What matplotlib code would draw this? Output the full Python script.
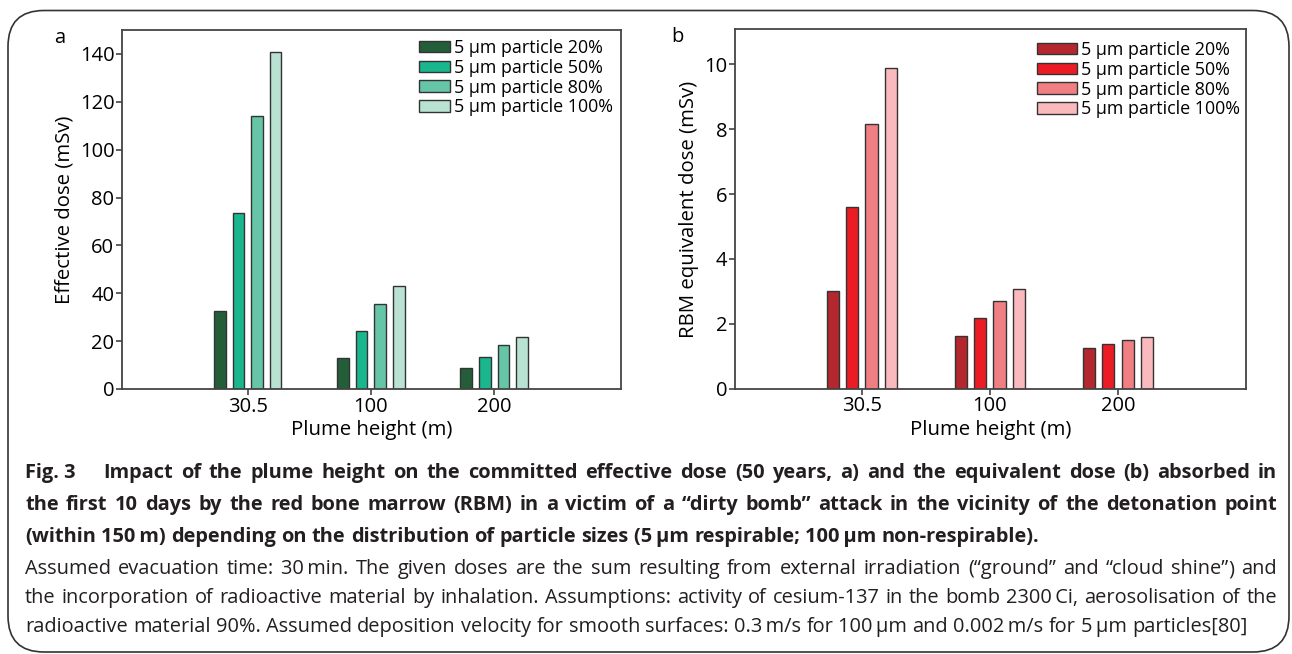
import matplotlib
matplotlib.use("Agg")
import matplotlib.pyplot as plt
import numpy as np
from matplotlib.patches import FancyBboxPatch
from matplotlib.font_manager import FontProperties

# ---------------- data ----------------
heights = ["30.5", "100", "200"]
series_labels = ["5 µm particle 20%", "5 µm particle 50%",
                 "5 µm particle 80%", "5 µm particle 100%"]
eff_20 = [32.6, 13.0, 8.6]
eff_50 = [73.4, 24.2, 13.5]
eff_80 = [114.0, 35.6, 18.4]
eff_100 = [141.0, 43.2, 21.6]
rbm_20 = [3.02, 1.62, 1.26]
rbm_50 = [5.59, 2.17, 1.38]
rbm_80 = [8.17, 2.71, 1.50]
rbm_100 = [9.89, 3.08, 1.59]
green_colors = ["#235e38", "#1ab78e", "#66c4a7", "#b9e2d3"]
red_colors = ["#b5272e", "#ec1c24", "#f07f84", "#f9b9bd"]

caption_bold = [
    "Fig.\u00a03\u2003 Impact of the plume height on the committed effective dose (50 years, a) and the equivalent dose (b) absorbed in",
    "the first 10 days by the red bone marrow (RBM) in a victim of a \u201cdirty bomb\u201d attack in the vicinity of the detonation point",
    "(within 150\u2009m) depending on the distribution of particle sizes (5\u2009µm respirable; 100\u2009µm non-respirable).",
]
caption_normal = [
    "Assumed evacuation time: 30\u2009min. The given doses are the sum resulting from external irradiation (\u201cground\u201d and \u201ccloud shine\u201d) and",
    "the incorporation of radioactive material by inhalation. Assumptions: activity of cesium-137 in the bomb 2300\u2009Ci, aerosolisation of the",
    "radioactive material 90%. Assumed deposition velocity for smooth surfaces: 0.3\u2009m/s for 100\u2009µm and 0.002\u2009m/s for 5\u2009µm particles[80]",
]

FONT = ["Open Sans", "DejaVu Sans"]
plt.rcParams["font.family"] = FONT

W, H = 1292, 654
fig = plt.figure(figsize=(W / 100, H / 100), dpi=100)

def px_axes(l, t, r, b):
    return fig.add_axes([l / W, 1 - b / H, (r - l) / W, (b - t) / H])

ax_a = px_axes(122, 30, 621, 389)
ax_b = px_axes(735, 29.3, 1246, 388.7)

LFS = 12.9

def draw(ax, vals, colors, ylim, yticks, ylabel, xlim, handlelen, anchor_px):
    x = np.arange(len(heights))
    width = 0.095
    offs = [-1.5, -0.5, 0.5, 1.5]
    step = 0.151
    for v, c, o, lab in zip(vals, colors, offs, series_labels):
        ax.bar(x + o * step, v, width=width, color=c, edgecolor="#333333",
               linewidth=1.0, label=lab, zorder=2)
    ax.set_xlim(*xlim)
    ax.set_ylim(*ylim)
    ax.set_xticks(x)
    ax.set_xticklabels(heights)
    ax.set_yticks(yticks)
    ax.tick_params(direction="out", length=4, width=1.1, color="#333333",
                   labelsize=14.5, pad=1.5)
    for s in ax.spines.values():
        s.set_color("#444444")
        s.set_linewidth(1.3)
    ax.set_xlabel("Plume height (m)", fontsize=14.7, labelpad=2.5)
    ax.set_ylabel(ylabel, fontsize=14.7, labelpad=4)
    leg = ax.legend(loc="upper left", frameon=False, fontsize=LFS,
                    handlelength=handlelen, handleheight=0.62,
                    handletextpad=0.2, labelspacing=0.1,
                    borderaxespad=0, borderpad=0,
                    bbox_to_anchor=(anchor_px[0] / W, 1 - anchor_px[1] / H),
                    bbox_transform=fig.transFigure)
    return leg

draw(ax_a, [eff_20, eff_50, eff_80, eff_100], green_colors, (0, 150),
     np.arange(0, 141, 20), "Effective dose (mSv)", (-1.02, 3.03), 1.75, (419, 39))
draw(ax_b, [rbm_20, rbm_50, rbm_80, rbm_100], red_colors, (0, 11.08),
     np.arange(0, 11, 2), "RBM equivalent dose (mSv)", (-0.99, 3.0), 2.25, (1037, 41))

fig.text(60 / W, 1 - 38 / H, "a", fontsize=14.5, ha="center", va="center")
fig.text(677 / W, 1 - 37 / H, "b", fontsize=14.5, ha="center", va="center")

# rounded border
box = FancyBboxPatch((8 / 100, (H - 652) / 100), (1289 - 8) / 100, (652 - 10.5) / 100,
                     boxstyle="round,pad=0,rounding_size=0.36",
                     transform=fig.dpi_scale_trans, fill=False,
                     edgecolor="#333333", linewidth=1.2)
fig.patches.append(box)

# justified caption
renderer = fig.canvas.get_renderer()
LEFT, RIGHT = 25, 1277

def split_word(wd):
    # separate a closing parenthesis after a closing quote into its own piece
    if wd.endswith("\u201d)"):
        return [wd[:-1], wd[-1]]
    return [wd]

def put_line(text, base_y, weight, size, justify):
    fp = FontProperties(family=FONT, size=size, weight=weight)
    words = text.split(" ")
    groups = []
    widths = []
    for wd in words:
        pieces = []
        wsum = 0.0
        for pc in split_word(wd):
            t = fig.text(0, 1 - base_y / H, pc, fontproperties=fp,
                         ha="left", va="baseline", color="#231f20")
            pw = t.get_window_extent(renderer).width
            pieces.append((t, pw))
            wsum += pw
        groups.append(pieces)
        widths.append(wsum)
    sp = fig.text(0, 0, "a a", fontproperties=fp)
    sa = fig.text(0, 0, "aa", fontproperties=fp)
    space_w = sp.get_window_extent(renderer).width - sa.get_window_extent(renderer).width
    sp.remove(); sa.remove()
    if justify and len(words) > 1:
        gap = (RIGHT - LEFT - sum(widths)) / (len(words) - 1)
    else:
        gap = space_w
    xx = LEFT
    for pieces, w in zip(groups, widths):
        px = xx
        for t, pw in pieces:
            t.set_x(px / W)
            px += pw
        xx += w + gap

bold_base = [478, 510, 542]
norm_base = [574, 603, 632]
for i, (line, y) in enumerate(zip(caption_bold, bold_base)):
    put_line(line, y, "bold", 14.4, i < len(caption_bold) - 1)
for i, (line, y) in enumerate(zip(caption_normal, norm_base)):
    put_line(line, y, "normal", 14.4, i < len(caption_normal) - 1)

fig.savefig("out.png", dpi=100)
